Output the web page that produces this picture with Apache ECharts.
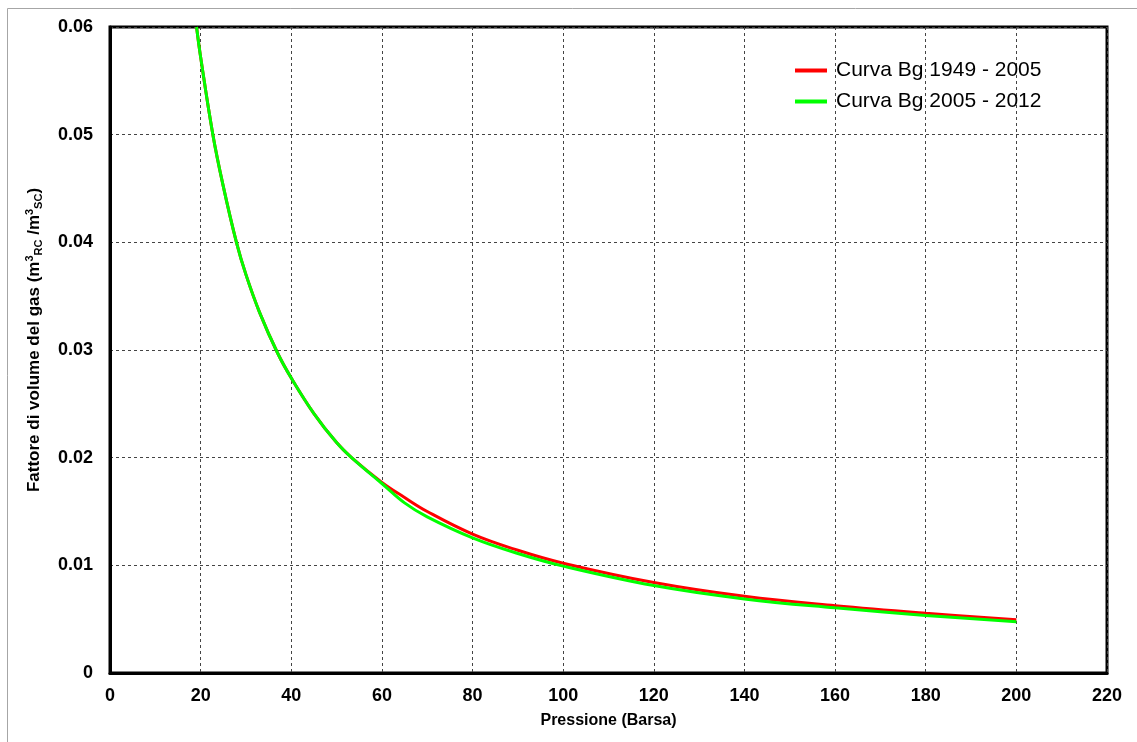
<!DOCTYPE html>
<html>
<head>
<meta charset="utf-8">
<script src="https://cdn.jsdelivr.net/npm/echarts@6/dist/echarts.min.js"></script>
<style>
html,body{margin:0;padding:0;background:#fff;}
#chart{width:1137px;height:742px;}
</style>
</head>
<body>
<div id="chart"></div>
<script>
// Pressione (Barsa) and Bg values
const series1Name = 'Curva Bg 1949 - 2005';
const series2Name = 'Curva Bg 2005 - 2012';
const pressure1 = [19.1, 20, 22.7, 25, 27.9, 30, 33, 37, 40, 45, 50, 53.3, 60, 65, 70, 80, 90, 100, 120, 140, 160, 180, 200];
const bg1 = [0.060, 0.0572, 0.050, 0.0452, 0.040, 0.0370, 0.0335, 0.0297, 0.0274, 0.0241, 0.0214, 0.0200, 0.0177, 0.0163, 0.0150, 0.0129, 0.0114, 0.0102, 0.0084, 0.00712, 0.00625, 0.00555, 0.00495];
const pressure2 = [19.1, 20, 22.7, 25, 27.9, 30, 33, 37, 40, 45, 50, 53.3, 60, 65, 70, 80, 90, 100, 120, 140, 160, 180, 200];
const bg2 = [0.060, 0.0572, 0.050, 0.0452, 0.040, 0.0370, 0.0335, 0.0297, 0.0274, 0.0241, 0.0214, 0.0200, 0.0176, 0.0158, 0.0145, 0.01255, 0.0111, 0.00993, 0.00812, 0.00688, 0.00605, 0.00535, 0.00476];
const xTicks = [0, 20, 40, 60, 80, 100, 120, 140, 160, 180, 200, 220];
const yTicks = [0, 0.01, 0.02, 0.03, 0.04, 0.05, 0.06];

const FONT = 'Liberation Sans, Arial, sans-serif';
const chart = echarts.init(document.getElementById('chart'));
const zip = (a, b) => a.map((v, i) => [v, b[i]]);

chart.setOption({
  backgroundColor: '#fff',
  animation: false,
  grid: { left: 110, top: 27, right: 30, bottom: 69, show: true, borderColor: '#000', borderWidth: 3,
    backgroundColor: 'transparent', containLabel: false, outerBoundsMode: 'none' },
  legend: {
    left: 790, top: 55, orient: 'vertical', itemGap: 10,
    itemWidth: 32, itemHeight: 4,
    icon: 'rect',
    textStyle: { fontFamily: FONT, fontSize: 21, color: '#000', padding: [0, 0, 0, 4] },
    data: [series1Name, series2Name]
  },
  xAxis: {
    type: 'value', min: xTicks[0], max: xTicks[xTicks.length - 1], interval: 20,
    name: 'Pressione (Barsa)', nameLocation: 'middle', nameGap: 40,
    nameTextStyle: { fontFamily: FONT, fontSize: 16, fontWeight: 'bold', color: '#000' },
    axisLine: { show: true, lineStyle: { color: '#000', width: 3 } },
    axisTick: { show: false },
    axisLabel: { fontFamily: FONT, fontSize: 18, fontWeight: 'bold', color: '#000', margin: 14 },
    splitLine: { show: true, lineStyle: { color: '#444', type: [3, 3], width: 1 } }
  },
  yAxis: {
    type: 'value', min: yTicks[0], max: yTicks[yTicks.length - 1], interval: 0.01,
    name: '{n|Fattore di volume del gas (m}{sup|3}{sub|RC}{n| /m}{sup|3}{sub|SC}{n|)}',
    nameLocation: 'middle', nameGap: 66, nameRotate: 90,
    nameTextStyle: {
      fontFamily: FONT, fontSize: 17, fontWeight: 'bold', color: '#000', padding: [0, 0, 0, 20],
      rich: {
        n: { fontFamily: FONT, fontSize: 17, fontWeight: 'bold', color: '#000' },
        sup: { fontFamily: FONT, fontSize: 11, fontWeight: 'bold', color: '#000', padding: [0, 0, 9, 0] },
        sub: { fontFamily: FONT, fontSize: 11, fontWeight: 'bold', color: '#000', padding: [9, 0, 0, 0] }
      }
    },
    axisLine: { show: true, lineStyle: { color: '#000', width: 3 } },
    axisTick: { show: false },
    axisLabel: { fontFamily: FONT, fontSize: 18, fontWeight: 'bold', color: '#000', margin: 17,
      formatter: v => (v === 0 ? '0' : v.toFixed(2)) },
    splitLine: { show: true, lineStyle: { color: '#444', type: [3, 3], width: 1 } }
  },
  graphic: [
    { type: 'rect', z: -10, silent: true, shape: { x: 7.5, y: 8.5, width: 1200, height: 800 }, style: { fill: 'none', stroke: '#a6a6a6', lineWidth: 1 } }
  ],
  series: [
    { name: series1Name, type: 'line', smooth: 0.4, showSymbol: false, symbol: 'none', data: zip(pressure1, bg1),
      lineStyle: { color: '#ff0000', width: 3 }, itemStyle: { color: '#ff0000' }, z: 2 },
    { name: series2Name, type: 'line', smooth: 0.4, showSymbol: false, symbol: 'none', data: zip(pressure2, bg2),
      lineStyle: { color: '#00ff00', width: 3 }, itemStyle: { color: '#00ff00' }, z: 3 }
  ]
});
</script>
</body>
</html>
